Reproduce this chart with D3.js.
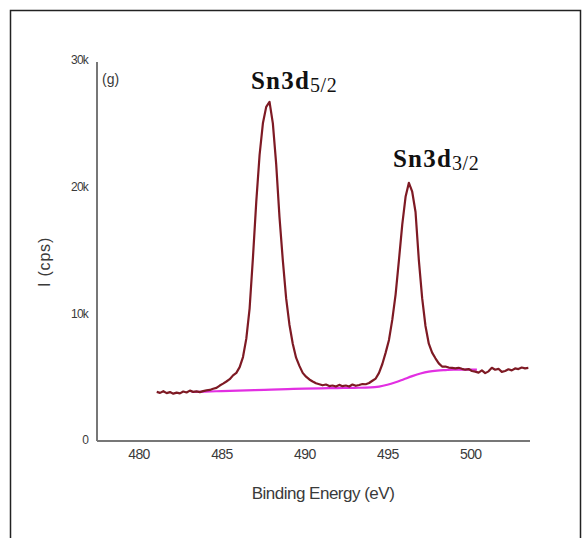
<!DOCTYPE html>
<html>
<head>
<meta charset="utf-8">
<script src="https://cdn.jsdelivr.net/npm/d3@7"></script>
<style>
  body { margin: 0; background: #fff; }
  svg { display: block; }
</style>
</head>
<body>
<svg width="583" height="538"></svg>
<script>
(function() {
  // Sn 3d spectrum, sampled every 0.2 eV starting at 481.1 eV (counts in k cps)
  var eStart = 481.1, eStep = 0.2;
  var counts = [
    3.80, 3.72, 3.85, 3.70, 3.78, 3.66, 3.74, 3.68, 3.83, 3.75,
    3.90, 3.80, 3.84, 3.78, 3.86, 3.92, 3.95, 4.05, 4.12, 4.30,
    4.45, 4.62, 4.80, 5.10, 5.30, 5.75, 6.55, 8.00, 10.4, 14.4,
    18.8, 22.5, 25.0, 26.3, 26.7, 25.0, 21.8, 17.6, 14.2, 11.2,
    9.10, 7.60, 6.50, 5.85, 5.30, 5.00, 4.78, 4.62, 4.48, 4.40,
    4.32, 4.38, 4.26, 4.30, 4.22, 4.35, 4.25, 4.30, 4.22, 4.38,
    4.28, 4.34, 4.42, 4.40, 4.50, 4.68, 4.85, 5.30, 6.00, 6.90,
    7.90, 9.50, 11.5, 14.2, 17.0, 19.2, 20.3, 19.6, 18.0, 14.2,
    11.2, 9.00, 7.60, 6.90, 6.45, 6.05, 5.80, 5.80, 5.72, 5.70,
    5.66, 5.70, 5.62, 5.55, 5.60, 5.45, 5.40, 5.32, 5.50, 5.28,
    5.42, 5.70, 5.55, 5.62, 5.38, 5.45, 5.58, 5.50, 5.65, 5.60,
    5.72, 5.66, 5.70
  ];

  // Shirley-type background
  var bgEnergy = [483.2, 484, 485, 486, 487, 488, 489, 490, 491, 492, 493, 494,
    494.5, 495, 495.5, 496, 496.5, 497, 497.5, 498, 498.5, 499, 499.5, 500, 500.4];
  var bgCounts = [3.79, 3.82, 3.86, 3.90, 3.94, 3.98, 4.02, 4.06, 4.08, 4.10, 4.12, 4.15,
    4.22, 4.36, 4.56, 4.80, 5.04, 5.25, 5.40, 5.48, 5.52, 5.55, 5.55, 5.55, 5.55];

  var xTicks = [480, 485, 490, 495, 500];
  var yTicks = [0, 10, 20, 30];
  var yTickLabels = ["0", "10k", "20k", "30k"];

  var svg = d3.select("svg");

  // picture frame
  svg.append("rect")
      .attr("x", 10.5).attr("y", 10.5)
      .attr("width", 570).attr("height", 600)
      .attr("fill", "none")
      .attr("stroke", "#222")
      .attr("stroke-width", 1.5);

  var x = d3.scaleLinear()
      .domain([477.5, 503.6])
      .range([97, 530]);

  var y = d3.scaleLinear()
      .domain([0, 30])
      .range([440, 60]);

  var spectrum = counts.map(function(c, i) { return [eStart + i * eStep, c]; });
  var background = bgEnergy.map(function(e, i) { return [e, bgCounts[i]]; });

  var xAxis = svg.append("g")
      .attr("transform", "translate(0,441)")
      .call(d3.axisBottom(x).tickValues(xTicks).tickSize(0).tickPadding(8)
        .tickFormat(d3.format("d")));
  xAxis.select(".domain").attr("stroke", "#777").attr("stroke-width", 2)
      .attr("d", "M97,0H530");
  xAxis.selectAll("text")
      .attr("font-family", "Liberation Sans, Arial, sans-serif")
      .attr("font-size", 14)
      .attr("letter-spacing", -0.6)
      .attr("fill", "#3a3a3a");

  var yAxis = svg.append("g")
      .attr("transform", "translate(97,0)")
      .call(d3.axisLeft(y).tickValues(yTicks).tickSize(0).tickPadding(9)
        .tickFormat(function(d, i) { return yTickLabels[i]; }));
  yAxis.select(".domain").attr("stroke", "#777").attr("stroke-width", 2)
      .attr("d", "M0,62V441");
  yAxis.selectAll("text")
      .attr("font-family", "Liberation Sans, Arial, sans-serif")
      .attr("font-size", 12)
      .attr("letter-spacing", -0.8)
      .attr("fill", "#3a3a3a");

  var line = d3.line()
      .x(function(d) { return x(d[0]); })
      .y(function(d) { return y(d[1]); });

  svg.append("path")
      .datum(background)
      .attr("fill", "none")
      .attr("stroke", "#e22fe2")
      .attr("stroke-width", 2.2)
      .attr("d", line.curve(d3.curveMonotoneX));

  svg.append("path")
      .datum(spectrum)
      .attr("fill", "none")
      .attr("stroke", "#7e1a24")
      .attr("stroke-width", 2.2)
      .attr("stroke-linejoin", "round")
      .attr("d", line.curve(d3.curveLinear));

  // axis titles
  svg.append("text")
      .attr("x", 323).attr("y", 499)
      .attr("text-anchor", "middle")
      .attr("font-family", "Liberation Sans, Arial, sans-serif")
      .attr("font-size", 17)
      .attr("letter-spacing", -0.5)
      .attr("fill", "#3a3a3a")
      .text("Binding Energy (eV)");

  svg.append("text")
      .attr("transform", "translate(50,262) rotate(-90)")
      .attr("text-anchor", "middle")
      .attr("font-family", "Liberation Sans, Arial, sans-serif")
      .attr("font-size", 16)
      .attr("letter-spacing", 0.8)
      .attr("fill", "#3a3a3a")
      .text("I (cps)");

  svg.append("text")
      .attr("x", 102).attr("y", 84)
      .attr("font-family", "Liberation Sans, Arial, sans-serif")
      .attr("font-size", 14)
      .attr("fill", "#3a3a3a")
      .text("(g)");

  // peak labels
  function peakLabel(px, py, sub) {
    var t = svg.append("text")
        .attr("x", px).attr("y", py)
        .attr("font-family", "Liberation Serif, Times New Roman, serif")
        .attr("fill", "#111");
    t.append("tspan").attr("font-weight", "bold").attr("font-size", 25)
        .attr("letter-spacing", 1.2).text("Sn3d");
    t.append("tspan").attr("font-size", 20).attr("letter-spacing", 0.6)
        .attr("dy", 3).text(sub);
  }
  peakLabel(251, 89, "5/2");
  peakLabel(393, 167, "3/2");
})();
</script>
</body>
</html>
